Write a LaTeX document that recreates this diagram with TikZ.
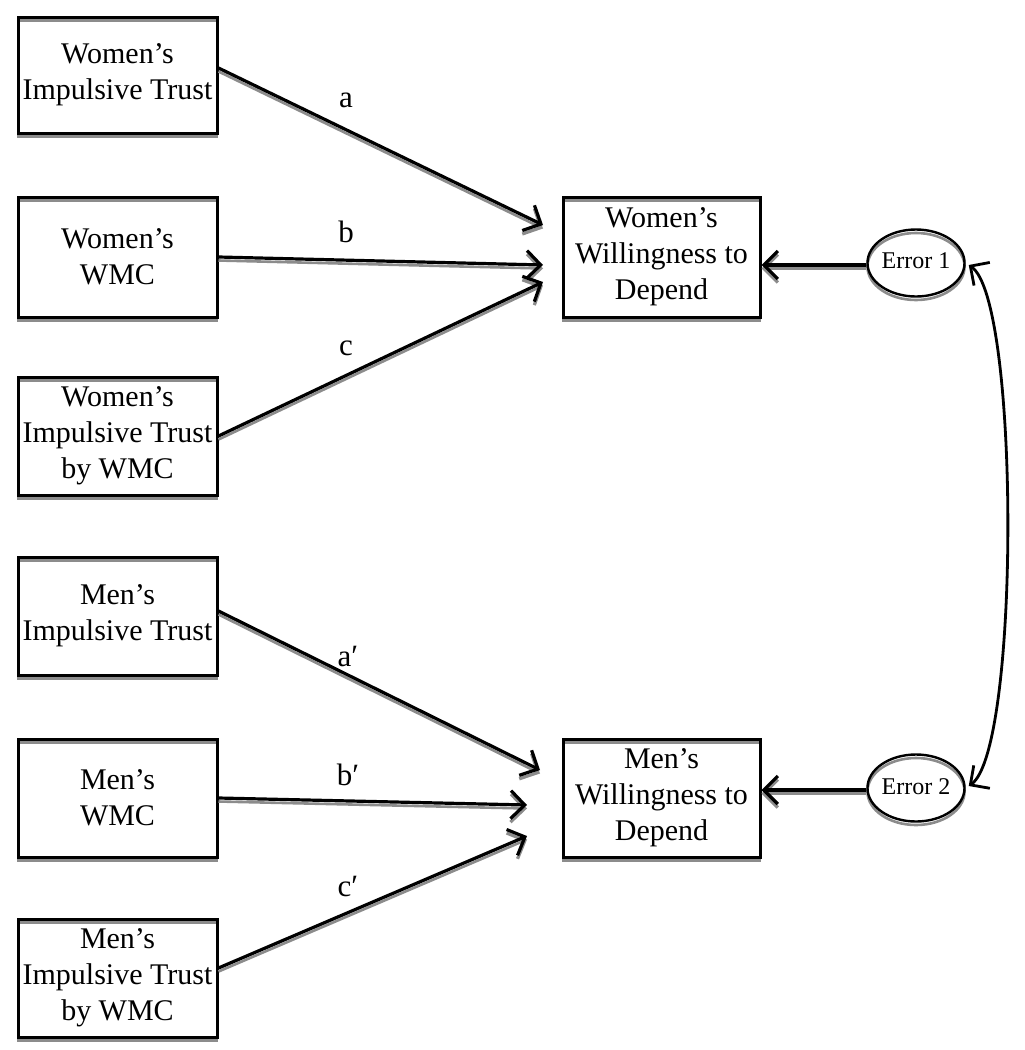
\documentclass[tikz,border=0pt]{standalone}
\usepackage{fontspec}
\setmainfont{Liberation Serif}
\usetikzlibrary{arrows.meta,shapes.geometric}
\tikzset{
  shadowed/.style={preaction={draw=black!45, line width=2.6pt, transform canvas={yshift=-3.5pt}}},
  box/.style={draw, line width=3pt, shadowed, minimum width=199pt, minimum height=118pt,
    align=center, inner sep=0pt, font=\fontsize{30}{36}\selectfont},
  err/.style={draw, ellipse, line width=2.4pt, shadowed, minimum width=83pt, minimum height=67pt,
    inner sep=0pt, font=\fontsize{24}{26}\selectfont},
  path/.style={line width=3.2pt, shadowed, -{Straight Barb[length=14pt,width=28pt,line width=3.2pt]}},
  lbl/.style={font=\fontsize{31}{32}\selectfont, inner sep=0pt},
  corr/.style={line width=2.8pt, {Straight Barb[length=14pt,width=28pt]}-{Straight Barb[length=14pt,width=28pt]}}
}
\begin{document}
\begin{tikzpicture}[x=1pt,y=-1pt]
\useasboundingbox (0,0) rectangle (1025,1050);
% predictor boxes
\node[box, minimum height=116pt] (wit) at (117.5,75) {Women’s\\Impulsive Trust};
\node[box, minimum height=120pt] (ww) at (117.5,257) {Women’s\\WMC};
\node[box] (wx) at (117.5,436) {Women’s\\Impulsive Trust\\by WMC};
\node[box] (mit) at (117.5,616) {Men’s\\Impulsive Trust};
\node[box] (mw) at (117.5,798) {Men’s\\WMC};
\node[box] (mx) at (117.5,978) {Men’s\\Impulsive Trust\\by WMC};
% outcome boxes
\node[box, minimum width=197pt, minimum height=120pt] (wd) at (661.5,257) {Women’s\\Willingness to\\Depend};
\node[box, minimum width=197pt] (md) at (661.5,798) {Men’s\\Willingness to\\Depend};
% errors
\node[err] (e1) at (916,263) {\raisebox{5pt}{Error 1}};
\node[err] (e2) at (916,788) {\raisebox{3pt}{Error 2}};
% tip coordinates
\coordinate (ta) at (543,225);
\coordinate (tb) at (543,265);
\coordinate (tc) at (543,282);
\coordinate (tap) at (540,770);
\coordinate (tbp) at (527,805);
\coordinate (tcp) at (527,836);
% paths
\draw[path] ([yshift=7pt]wit.east) -- (ta);
\draw[path] (ww.east) -- (tb);
\draw[path] (wx.east) -- (tc);
\draw[path] ([yshift=5pt]mit.east) -- (tap);
\draw[path] (mw.east) -- (tbp);
\draw[path] ([yshift=10pt]mx.east) -- (tcp);
\draw[path] ([yshift=-2pt]e1.west) -- ([yshift=-2pt]e1.west -| wd.east);
\draw[path] ([yshift=-2pt]e2.west) -- ([yshift=-2pt]e2.west -| md.east);
% correlation
\draw[corr] ([xshift=3pt,yshift=-2pt]e1.east) .. controls (1020,300) and (1020,750) .. ([xshift=3pt,yshift=2pt]e2.east);
% labels
\node[lbl] (la) at (346,100) {a};
\node[lbl] (lb) at (346,232) {b};
\node[lbl] (lc) at (346,348) {c};
\node[lbl] (lap) at (348,656) {a′};
\node[lbl] (lbp) at (348,775) {b′};
\node[lbl] (lcp) at (348,886) {c′};
\end{tikzpicture}
\end{document}
